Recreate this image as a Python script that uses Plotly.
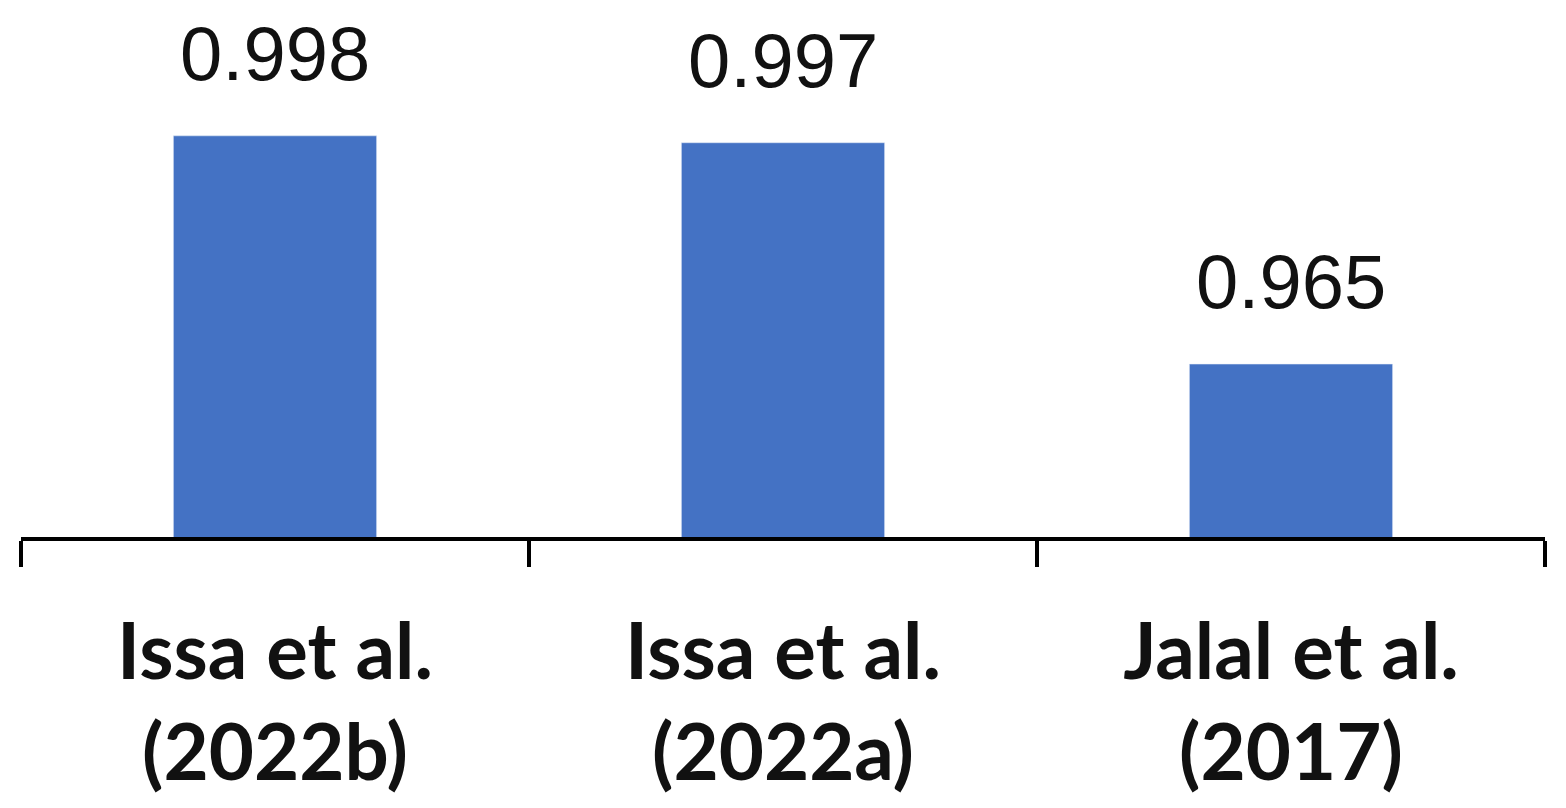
import plotly.graph_objects as go

# datos del grafico
estudios = ["Issa et al.<br>(2022b)", "Issa et al.<br>(2022a)", "Jalal et al.<br>(2017)"]
valores = [0.998, 0.997, 0.965]
etiquetas = ["0.998", "0.997", "0.965"]

fig = go.Figure()
fig.add_trace(go.Bar(x=estudios, y=valores, marker_color="#4472C4", width=0.4))

# etiquetas de valor encima de cada barra
for e, v, t in zip(estudios, valores, etiquetas):
    fig.add_annotation(x=e, y=v, text=t, showarrow=False, yanchor="bottom", yshift=38,
                       font=dict(family="Liberation Sans", size=76, color="#111111"))

fig.update_layout(
    width=1566, height=808,
    margin=dict(l=13, r=29, t=114, b=279),
    plot_bgcolor="white", paper_bgcolor="white",
    showlegend=False,
)
fig.update_xaxes(
    showline=True, linecolor="black", linewidth=4,
    ticks="outside", tickson="boundaries", ticklen=26, tickwidth=4, tickcolor="black",
    tickfont=dict(family="Lato", size=78, color="#111111", weight="bold"),
    ticklabelstandoff=44,
)
fig.update_yaxes(range=[0.94, 1.0], visible=False, showgrid=False)

fig.write_html("out.html")
